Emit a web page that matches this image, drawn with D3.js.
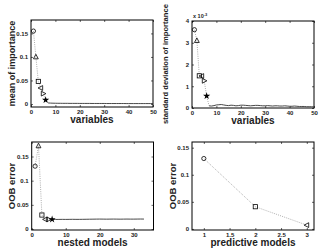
<!DOCTYPE html>
<html>
<head>
<meta charset="utf-8">
<script src="https://cdn.jsdelivr.net/npm/d3@7"></script>
<style>
  body { margin: 0; background: #fff; }
  svg { display: block; font-family: "Liberation Sans", Arial, sans-serif; }
</style>
</head>
<body>
<div id="chart"></div>
<script>
// ---- data ----
// panel 1: mean of importance
const meanX = [1, 2, 3, 4, 5, 6];
const meanY = [0.155, 0.1, 0.048, 0.034, 0.022, 0.0085];
const meanTailX = d3.range(7, 51);
const meanTailY = [0.0022, 0.0019, 0.0017, 0.0016, 0.0015, 0.0015, 0.0014, 0.0014, 0.0014, 0.0013,
  0.0013, 0.0013, 0.0013, 0.0012, 0.0012, 0.0012, 0.0012, 0.0012, 0.0011, 0.0011,
  0.0011, 0.0011, 0.0011, 0.0011, 0.0010, 0.0010, 0.0010, 0.0010, 0.0010, 0.0010,
  0.0010, 0.0010, 0.0009, 0.0009, 0.0009, 0.0009, 0.0009, 0.0009, 0.0009, 0.0009,
  0.0009, 0.0009, 0.0009, 0.0009];

// panel 2: standard deviation of importance (x 1e-3)
const sdX = [1, 2, 3, 4, 5, 6];
const sdY = [3.6, 3.1, 1.48, 1.47, 1.25, 0.55];
const sdTailX = d3.range(7, 51);
const sdTailY = [0.10, 0.09, 0.11, 0.14, 0.15, 0.16, 0.14, 0.12, 0.11, 0.13,
  0.12, 0.10, 0.11, 0.13, 0.13, 0.12, 0.11, 0.10, 0.11, 0.12,
  0.12, 0.11, 0.10, 0.10, 0.11, 0.10, 0.09, 0.10, 0.10, 0.09,
  0.09, 0.10, 0.09, 0.08, 0.08, 0.09, 0.08, 0.07, 0.07, 0.07,
  0.06, 0.06, 0.06, 0.05];

// panel 3: OOB error of nested models
const nestX = [1, 2, 3, 4, 5, 6];
const nestY = [0.13, 0.172, 0.029, 0.02, 0.02, 0.02];
const nestTailX = d3.range(6, 34);
const nestTailY = [0.020, 0.0198, 0.0199, 0.0200, 0.0199, 0.0200, 0.0201, 0.0200, 0.0200, 0.0201,
  0.0202, 0.0203, 0.0204, 0.0205, 0.0206, 0.0205, 0.0204, 0.0205, 0.0206, 0.0205,
  0.0204, 0.0205, 0.0206, 0.0205, 0.0205, 0.0206, 0.0207, 0.0206];

// panel 4: OOB error of predictive models
const predX = [1, 2, 3];
const predY = [0.13, 0.041, 0.007];

const markers6 = ["circle", "triUp", "square", "triLeft", "triRight", "star"];
const markers3 = ["circle", "square", "triLeft"];

const yTicks = [0, 0.05, 0.1, 0.15];
const fmt = d => d === 0 ? "0" : String(d);

// ---- drawing ----
const W = 319, H = 251;
const svg = d3.select("#chart").append("svg")
  .attr("width", W).attr("height", H);

function drawMarker(g, type, cx, cy) {
  const s = 2.1;
  if (type === "circle") {
    g.append("circle").attr("cx", cx).attr("cy", cy).attr("r", s)
      .attr("fill", "none").attr("stroke", "#000").attr("stroke-width", 0.8);
  } else if (type === "square") {
    g.append("rect").attr("x", cx - s).attr("y", cy - s)
      .attr("width", 2 * s).attr("height", 2 * s)
      .attr("fill", "none").attr("stroke", "#000").attr("stroke-width", 0.8);
  } else if (type === "star") {
    g.append("path").attr("d", d3.symbol(d3.symbolStar, 16)())
      .attr("transform", `translate(${cx},${cy})`)
      .attr("fill", "#000");
  } else {
    const rot = {triUp: 0, triLeft: -90, triRight: 90}[type];
    g.append("path").attr("d", "M0,-2.7L2.4,1.9L-2.4,1.9Z")
      .attr("transform", `translate(${cx},${cy}) rotate(${rot})`)
      .attr("fill", "none").attr("stroke", "#000").attr("stroke-width", 0.8);
  }
}

function panel(opt) {
  const g = svg.append("g");
  const x = d3.scaleLinear().domain(opt.xDomain).range([opt.left, opt.right]);
  const y = d3.scaleLinear().domain(opt.yDomain).range([opt.bottom, opt.top]);

  // frame
  g.append("rect")
    .attr("x", opt.left).attr("y", opt.top)
    .attr("width", opt.right - opt.left).attr("height", opt.bottom - opt.top)
    .attr("fill", "none").attr("stroke", "#000").attr("stroke-width", 1);

  // axes (ticks inward, like matlab)
  const ax = g.append("g").attr("transform", `translate(0,${opt.bottom})`)
    .call(d3.axisBottom(x).tickValues(opt.xTicks).tickSize(-2).tickPadding(3).tickFormat(fmt));
  const ax2 = g.append("g").attr("transform", `translate(0,${opt.top})`)
    .call(d3.axisTop(x).tickValues(opt.xTicks).tickSize(-2).tickFormat(""));
  const ay = g.append("g").attr("transform", `translate(${opt.left},0)`)
    .call(d3.axisLeft(y).tickValues(opt.yTicks).tickSize(-2).tickPadding(3).tickFormat(opt.yFormat || fmt));
  const ay2 = g.append("g").attr("transform", `translate(${opt.right},0)`)
    .call(d3.axisRight(y).tickValues(opt.yTicks).tickSize(-2).tickFormat(""));
  [ax, ax2, ay, ay2].forEach(a => {
    a.select(".domain").remove();
    a.selectAll("line").attr("stroke", "#000").attr("stroke-width", 0.6);
    a.selectAll("text").attr("font-size", 6).attr("font-weight", "bold")
      .attr("font-family", "Liberation Sans, Arial, sans-serif").attr("fill", "#222");
  });

  // dotted connection between markers
  const pts = opt.xs.map((v, i) => [v, opt.ys[i]]);
  const dotted = opt.tailX ? pts.concat([[opt.tailX[0], opt.tailY[0]]]) : pts;
  g.append("path")
    .attr("d", d3.line().x(d => x(d[0])).y(d => y(d[1]))(dotted))
    .attr("fill", "none").attr("stroke", "#999").attr("stroke-width", 0.8)
    .attr("stroke-dasharray", "1,1.2");

  // solid tail
  if (opt.tailX) {
    g.append("path")
      .attr("d", d3.line().x((d, i) => x(opt.tailX[i])).y(d => y(d))(opt.tailY))
      .attr("fill", "none").attr("stroke", "#333").attr("stroke-width", 0.9);
  }

  // markers
  pts.forEach((p, i) => drawMarker(g, opt.markers[i], x(p[0]), y(p[1])));

  // labels
  g.append("text")
    .attr("x", (opt.left + opt.right) / 2).attr("y", opt.bottom + 16)
    .attr("text-anchor", "middle").attr("font-size", opt.xLabelSize || 10)
    .attr("font-weight", "bold").attr("fill", "#222")
    .text(opt.xLabel);
  g.append("text")
    .attr("transform", `translate(${opt.yLabelX},${opt.yLabelY || (opt.top + opt.bottom) / 2}) rotate(-90)`)
    .attr("text-anchor", "middle").attr("font-size", opt.yLabelSize || 9)
    .attr("font-weight", "bold").attr("fill", "#222")
    .text(opt.yLabel);
  return g;
}

panel({
  left: 31, right: 153, top: 20, bottom: 107,
  xDomain: [0, 50], yDomain: [-0.0064, 0.1785],
  xTicks: [0, 10, 20, 30, 40, 50], yTicks: yTicks,
  xs: meanX, ys: meanY, tailX: meanTailX, tailY: meanTailY, markers: markers6,
  xLabel: "variables", yLabel: "mean of importance", yLabelX: 15
});

const p2 = panel({
  left: 192, right: 314, top: 21, bottom: 108,
  xDomain: [0, 50], yDomain: [0, 4],
  xTicks: [0, 10, 20, 30, 40, 50], yTicks: [0, 1, 2, 3, 4],
  yFormat: d => String(d),
  xs: sdX, ys: sdY, tailX: sdTailX, tailY: sdTailY, markers: markers6,
  xLabel: "variables", yLabel: "standard deviation of importance", yLabelX: 168,
  yLabelY: 64, yLabelSize: 7.6
});
const exp = p2.append("text").attr("x", 193).attr("y", 18)
  .attr("font-size", 5.5).attr("font-weight", "bold").attr("fill", "#222");
exp.append("tspan").text("x 10");
exp.append("tspan").attr("dy", -2.5).attr("font-size", 4).text("-3");

panel({
  left: 31.7, right: 153.5, top: 142, bottom: 230,
  xDomain: [0, 35.8], yDomain: [-0.002, 0.18],
  xTicks: [0, 10, 20, 30], yTicks: yTicks,
  xs: nestX, ys: nestY, tailX: nestTailX, tailY: nestTailY, markers: markers6,
  xLabel: "nested models", yLabel: "OOB error", yLabelX: 15, yLabelSize: 9.5
});

panel({
  left: 192, right: 314, top: 142, bottom: 230,
  xDomain: [0.77, 3.14], yDomain: [-0.002, 0.1605],
  xTicks: [1, 1.5, 2, 2.5, 3], yTicks: yTicks,
  xs: predX, ys: predY, markers: markers3,
  xLabel: "predictive models", yLabel: "OOB error", yLabelX: 176, yLabelSize: 9.5
});
</script>
</body>
</html>
